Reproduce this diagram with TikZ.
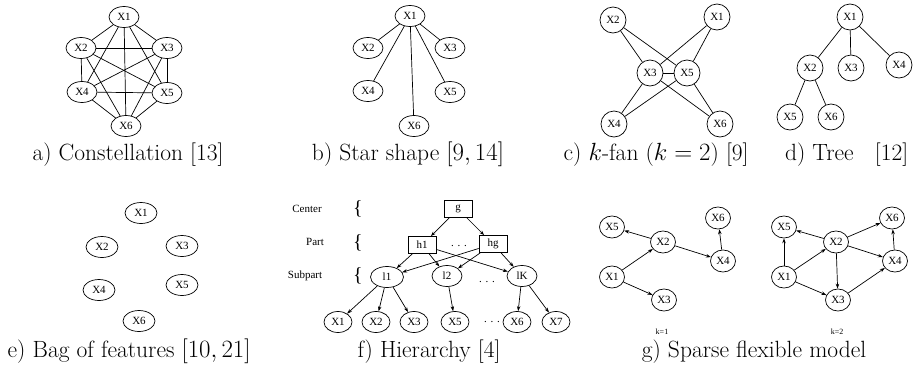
\documentclass[tikz,border=0pt]{standalone}
\usepackage{fontspec}
\newfontfamily\tms{Liberation Serif}
\usetikzlibrary{shapes.geometric,arrows.meta}
\begin{document}
\begin{tikzpicture}[x=1pt,y=-1pt,line width=0.7pt,
  nd/.style={draw,ellipse,inner sep=0pt,minimum width=30pt,minimum height=21pt,font=\tms\fontsize{11}{12}\selectfont},
  cn/.style={draw,circle,inner sep=0pt,minimum size=26pt,font=\tms\fontsize{11}{12}\selectfont},
  gn/.style={draw,ellipse,inner sep=0pt,minimum width=25pt,minimum height=22pt,font=\tms\fontsize{11}{12}\selectfont},
  bx/.style={draw,rectangle,inner sep=0pt,minimum width=28pt,minimum height=17pt,font=\tms\fontsize{11}{12}\selectfont},
  captxt/.style={anchor=base,font=\fontsize{23.5}{27}\selectfont},
  lab/.style={font=\tms\fontsize{11}{12}\selectfont},
  brc/.style={font=\tms\fontsize{20}{22}\selectfont},
  smalltxt/.style={font=\tms\fontsize{8}{9}\selectfont},
  dts/.style={font=\tms\fontsize{11}{12}\selectfont},
  ar/.style={-{Stealth[length=5pt,width=3.5pt]}}]
\useasboundingbox (0,0) rectangle (914,370);
% a) Constellation
\node[nd] (a1) at (124,17) {X1};
\node[nd] (a2) at (81,48) {X2};
\node[nd] (a3) at (167,48) {X3};
\node[nd] (a4) at (82,92) {X4};
\node[nd] (a5) at (167,93) {X5};
\node[nd] (a6) at (126,126) {X6};
\foreach \i/\j in {1/2,1/3,1/4,1/5,1/6,2/3,2/4,2/5,2/6,3/4,3/5,3/6,4/5,4/6,5/6}
  \draw (a\i) -- (a\j);
\node[captxt] (ca) at (128,160) {a) Constellation [13]};
% b) Star
\node[nd] (b1) at (410,16) {X1};
\node[nd] (b2) at (368,48) {X2};
\node[nd] (b3) at (450,48) {X3};
\node[nd] (b4) at (368,91) {X4};
\node[nd] (b5) at (450,92) {X5};
\node[nd] (b6) at (414,126) {X6};
\foreach \j in {2,...,6} \draw (b1) -- (b\j);
\node[captxt] (cb) at (408,160) {b) Star shape $[9,14]$};
% c) k-fan
\node[cn] (c2) at (613,20) {X2};
\node[cn] (c1) at (717,17) {X1};
\node[cn] (c3) at (650,73) {X3};
\node[cn] (c5) at (687,73) {X5};
\node[cn] (c4) at (614,124) {X4};
\node[cn] (c6) at (720,124) {X6};
\foreach \i/\j in {2/3,2/5,1/3,1/5,3/5,3/4,5/4,3/6,5/6}
  \draw (c\i) -- (c\j);
\node[captxt,anchor=base west] (cc) at (560,160) {c) $k$-fan ($k=2$) [9]};
% d) Tree
\node[cn] (d1) at (850,17) {X1};
\node[cn] (d2) at (810,68) {X2};
\node[cn] (d3) at (851,68) {X3};
\node[cn] (d4) at (899,65) {X4};
\node[cn] (d5) at (790,117) {X5};
\node[cn] (d6) at (831,117) {X6};
\foreach \i/\j in {1/2,1/3,1/4,2/5,2/6}
  \draw (d\i) -- (d\j);
\node[captxt,anchor=base east] (cd) at (912,160) {d) Tree\ \ \ [12]};
% e) Bag of features
\node[nd,minimum width=32pt] (e1) at (141,213) {X1};
\node[nd,minimum width=32pt] (e2) at (102,247) {X2};
\node[nd,minimum width=32pt] (e3) at (182,246) {X3};
\node[nd,minimum width=32pt] (e4) at (99,290) {X4};
\node[nd,minimum width=32pt] (e5) at (182,285) {X5};
\node[nd,minimum width=32pt] (e6) at (139,321) {X6};
\node[captxt,anchor=base west] (ce) at (4,357) {e) Bag of features $[10,21]$};
% f) Hierarchy
\node[lab] (tc) at (307,209) {Center};
\node[lab] (tp) at (315,242) {Part};
\node[lab] (ts) at (305,276) {Subpart};
\node[brc] (bc) at (358,209) {\{};
\node[brc] (bp) at (358,243) {\{};
\node[brc] (bs) at (358,276) {\{};
\node[bx] (g) at (458,209) {g};
\node[bx] (h1) at (422,245) {h1};
\node[bx] (hg) at (493,244) {hg};
\node[dts] (hd) at (459,246) {. . .};
\node[nd,minimum width=33pt] (l1) at (387,277) {l1};
\node[nd,minimum width=30pt] (l2) at (447,276) {l2};
\node[nd,minimum width=30pt] (lk) at (522,276) {lK};
\node[dts] (ld) at (487,282) {. . .};
\node[nd,minimum width=28pt] (f1) at (338,322) {X1};
\node[nd,minimum width=28pt] (f2) at (376,322) {X2};
\node[nd,minimum width=28pt] (f3) at (414,322) {X3};
\node[nd,minimum width=28pt] (f5) at (455,322) {X5};
\node[dts] (fd) at (492,322) {. . .};
\node[nd,minimum width=28pt] (f6) at (517,322) {X6};
\node[nd,minimum width=28pt] (f7) at (556,322) {X7};
\foreach \i/\j in {g/h1,g/hg,h1/l1,h1/l2,h1/lk,hg/l1,hg/l2,hg/lk,l1/f1,l1/f2,l1/f3,l2/f5,lk/f6,lk/f7}
  \draw[ar] (\i) -- (\j);
\node[captxt] (cf) at (429,357) {f) Hierarchy [4]};
% g) Sparse flexible model, k=1
\node[gn] (p5) at (612,227) {X5};
\node[gn] (p2) at (663,242) {X2};
\node[gn] (p6) at (718,218) {X6};
\node[gn] (p4) at (723,261) {X4};
\node[gn] (p1) at (612,277) {X1};
\node[gn] (p3) at (664,300) {X3};
\foreach \i/\j in {2/5,1/2,2/4,4/6,1/3}
  \draw[ar] (p\i) -- (p\j);
\node[smalltxt] (k1) at (662,332) {k=1};
% k=2
\node[gn] (q5) at (784,227) {X5};
\node[gn] (q2) at (836,242) {X2};
\node[gn] (q6) at (892,218) {X6};
\node[gn] (q4) at (895,261) {X4};
\node[gn] (q1) at (784,277) {X1};
\node[gn] (q3) at (838,300) {X3};
\foreach \i/\j in {2/5,1/5,1/2,2/6,2/4,2/3,1/3,3/4,4/6}
  \draw[ar] (q\i) -- (q\j);
\node[smalltxt] (k2) at (837,332) {k=2};
\node[captxt] (cg) at (754,357) {g) Sparse flexible model};
\end{tikzpicture}
\end{document}
